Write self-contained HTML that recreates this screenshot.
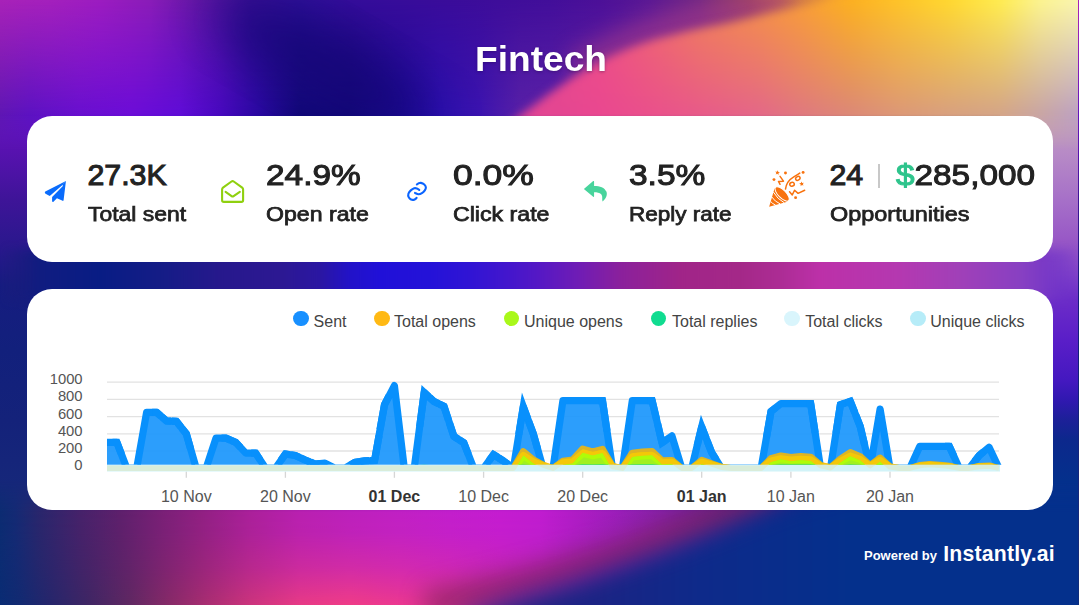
<!DOCTYPE html>
<html>
<head>
<meta charset="utf-8">
<title>Fintech</title>
<style>
html,body{margin:0;padding:0;}
html{width:1079px;height:605px;overflow:hidden;}
body{width:1079px;height:605px;overflow:hidden;position:relative;background:#14207c;font-family:"Liberation Sans",sans-serif;}
#bg{position:absolute;left:0;top:0;width:1079px;height:605px;}
.card{position:absolute;left:27px;width:1026px;background:#fff;border-radius:25px;}
#c1{top:116px;height:145.6px;}
#c2{top:288.8px;height:221.3px;}
#title{position:absolute;left:340.7px;top:37px;width:400px;transform:scaleX(1.045);text-align:center;color:#fff;font-weight:bold;font-size:35.5px;line-height:44px;text-shadow:0 1px 3px rgba(30,0,60,0.35);letter-spacing:0;}
.t{position:absolute;white-space:nowrap;color:#222;transform-origin:0 0;}
.num{font-size:30.3px;font-weight:normal;-webkit-text-stroke:1.05px #222;line-height:36px;top:157.1px;}
.lab{font-size:20.7px;font-weight:normal;-webkit-text-stroke:0.75px #222;line-height:24px;top:202.2px;}
.ic{position:absolute;overflow:visible;}
.cf{position:absolute;white-space:nowrap;font-size:16px;line-height:18px;color:#555;}
.leg{top:313px;color:#444;}
.dot{position:absolute;width:15.6px;height:15.6px;border-radius:50%;top:310.6px;}
.yl{text-align:right;width:60px;left:22.6px;font-size:14.8px;}
.xl{width:80px;text-align:center;top:487.5px;}
.xl b{color:#333;}
.pw{position:absolute;color:#fff;font-weight:bold;white-space:nowrap;}
</style>
</head>
<body>
<svg id="bg" width="1079" height="605" viewBox="0 0 1079 605">
<defs><filter id="bl6" color-interpolation-filters="sRGB" x="-10%" y="-30%" width="120%" height="160%"><feGaussianBlur stdDeviation="5"/></filter>
<filter id="bl12" color-interpolation-filters="sRGB" x="-10%" y="-30%" width="120%" height="160%"><feGaussianBlur stdDeviation="12"/></filter>
<filter id="bl25" color-interpolation-filters="sRGB" x="-20%" y="-50%" width="140%" height="200%"><feGaussianBlur stdDeviation="25"/></filter>
<linearGradient id="LS" gradientUnits="userSpaceOnUse" x1="0" y1="0" x2="0" y2="605"><stop offset="0.0000" stop-color="#a822b8"/><stop offset="0.0992" stop-color="#8a1cbc"/><stop offset="0.1917" stop-color="#6214bc"/><stop offset="0.2479" stop-color="#5812b0"/><stop offset="0.3306" stop-color="#3e1498"/><stop offset="0.4132" stop-color="#28188c"/><stop offset="0.4711" stop-color="#161c80"/><stop offset="0.5785" stop-color="#12207c"/><stop offset="0.6942" stop-color="#14227a"/><stop offset="0.8264" stop-color="#16287a"/><stop offset="0.9256" stop-color="#142c78"/><stop offset="1.0000" stop-color="#0c2c7c"/></linearGradient>
<linearGradient id="RS" gradientUnits="userSpaceOnUse" x1="0" y1="0" x2="0" y2="605"><stop offset="0.0000" stop-color="#fbf4a4"/><stop offset="0.0496" stop-color="#f4eca0"/><stop offset="0.0992" stop-color="#eedca4"/><stop offset="0.1488" stop-color="#dcc0a8"/><stop offset="0.1917" stop-color="#c4a0b8"/><stop offset="0.2479" stop-color="#b88cc6"/><stop offset="0.3306" stop-color="#a670c8"/><stop offset="0.3967" stop-color="#9858c6"/><stop offset="0.4545" stop-color="#8040c8"/><stop offset="0.4959" stop-color="#6c2cc8"/><stop offset="0.5620" stop-color="#5a1ec8"/><stop offset="0.6281" stop-color="#4418c0"/><stop offset="0.6612" stop-color="#3018b0"/><stop offset="0.6942" stop-color="#1c2098"/><stop offset="0.7273" stop-color="#0c288c"/><stop offset="0.7934" stop-color="#04308c"/><stop offset="1.0000" stop-color="#043090"/></linearGradient>
<linearGradient id="MS" gradientUnits="userSpaceOnUse" x1="0" y1="0" x2="1079" y2="0"><stop offset="0.0000" stop-color="#1e1c78"/><stop offset="0.0371" stop-color="#101c80"/><stop offset="0.0927" stop-color="#081c84"/><stop offset="0.1483" stop-color="#141c86"/><stop offset="0.2039" stop-color="#26188c"/><stop offset="0.2595" stop-color="#2c1892"/><stop offset="0.2966" stop-color="#2a16a2"/><stop offset="0.3244" stop-color="#2212c8"/><stop offset="0.3522" stop-color="#2010d8"/><stop offset="0.3985" stop-color="#2412d8"/><stop offset="0.4356" stop-color="#3014d4"/><stop offset="0.4727" stop-color="#4416cc"/><stop offset="0.5005" stop-color="#5618c4"/><stop offset="0.5375" stop-color="#701cb4"/><stop offset="0.5746" stop-color="#8a209c"/><stop offset="0.6302" stop-color="#a02488"/><stop offset="0.6858" stop-color="#a42888"/><stop offset="0.7229" stop-color="#ac2c94"/><stop offset="0.7600" stop-color="#bc30a8"/><stop offset="0.8341" stop-color="#b438b0"/><stop offset="0.8897" stop-color="#a040b8"/><stop offset="0.9453" stop-color="#8840c2"/><stop offset="0.9824" stop-color="#7034c8"/><stop offset="1.0000" stop-color="#6830cc"/></linearGradient>
<filter id="blm" color-interpolation-filters="sRGB" x="-5%" y="-50%" width="110%" height="200%"><feGaussianBlur stdDeviation="0 5"/></filter>
<linearGradient id="MSF" x1="0" y1="0" x2="1" y2="0"><stop offset="0" stop-color="#000"/><stop offset="0.035" stop-color="#fff"/><stop offset="0.965" stop-color="#fff"/><stop offset="1" stop-color="#000"/></linearGradient>
<mask id="MSK" maskUnits="userSpaceOnUse" x="0" y="230" width="1079" height="90"><rect x="0" y="230" width="1079" height="90" fill="url(#MSF)"/></mask>
<linearGradient id="TFg" gradientUnits="userSpaceOnUse" x1="0" y1="114" x2="0" y2="150"><stop offset="0" stop-color="#fff"/><stop offset="1" stop-color="#000"/></linearGradient>
<mask id="TF" maskUnits="userSpaceOnUse" x="0" y="-10" width="1079" height="170"><rect x="0" y="-10" width="1079" height="170" fill="url(#TFg)"/></mask>
<linearGradient id="TCT" gradientUnits="userSpaceOnUse" x1="0" y1="0" x2="1079" y2="0"><stop offset="0.0000" stop-color="#a822b8"/><stop offset="0.0463" stop-color="#a420bc"/><stop offset="0.0927" stop-color="#9c1cc0"/><stop offset="0.1390" stop-color="#8a1cb8"/><stop offset="0.1854" stop-color="#6016a4"/><stop offset="0.2317" stop-color="#3c1098"/><stop offset="0.2780" stop-color="#30109a"/><stop offset="0.3244" stop-color="#340c9a"/><stop offset="0.4171" stop-color="#3a0c9a"/><stop offset="0.5097" stop-color="#420e9a"/><stop offset="0.5561" stop-color="#4c1098"/><stop offset="0.6024" stop-color="#5a1894"/><stop offset="0.6487" stop-color="#6c2684"/><stop offset="0.6951" stop-color="#92445c"/><stop offset="0.7414" stop-color="#d07c44"/><stop offset="0.7878" stop-color="#f0a030"/><stop offset="1.0000" stop-color="#f0a030"/></linearGradient>
<linearGradient id="TCB" gradientUnits="userSpaceOnUse" x1="0" y1="0" x2="1079" y2="0"><stop offset="0.0000" stop-color="#5e16b4"/><stop offset="0.0278" stop-color="#5c12c2"/><stop offset="0.0741" stop-color="#680fd0"/><stop offset="0.1205" stop-color="#6c0cd8"/><stop offset="0.1668" stop-color="#600cd8"/><stop offset="0.2039" stop-color="#4808c0"/><stop offset="0.2410" stop-color="#2808a0"/><stop offset="0.2780" stop-color="#100878"/><stop offset="0.3244" stop-color="#100878"/><stop offset="0.3707" stop-color="#1c0a98"/><stop offset="0.4078" stop-color="#2c10b0"/><stop offset="0.4449" stop-color="#3c14b0"/><stop offset="0.4819" stop-color="#5820a8"/><stop offset="0.5561" stop-color="#6424a8"/><stop offset="1.0000" stop-color="#6424a8"/></linearGradient>
<linearGradient id="TCM" gradientUnits="userSpaceOnUse" x1="0" y1="0" x2="0" y2="116"><stop offset="0" stop-color="#fff"/><stop offset="1" stop-color="#000"/></linearGradient>
<mask id="TCK" maskUnits="userSpaceOnUse" x="0" y="-5" width="1079" height="160"><rect x="0" y="-5" width="1079" height="160" fill="url(#TCM)"/></mask>
<clipPath id="WC"><path d="M470,170 L495,135 C520,116 540,100 556,89 C580,72 595,64 611,56 C635,45 650,40 667,36 C690,30 705,27 722,24 C745,19 760,15 778,11 C800,6 815,3 840,-6 L1200,-30 L1200,170 L470,170 Z"/></clipPath>
<linearGradient id="TWT" gradientUnits="userSpaceOnUse" x1="480" y1="0" x2="1130" y2="0"><stop offset="0.0000" stop-color="#e84890"/><stop offset="0.1846" stop-color="#ee5084"/><stop offset="0.3385" stop-color="#f08058"/><stop offset="0.4308" stop-color="#f49048"/><stop offset="0.4923" stop-color="#f89c38"/><stop offset="0.5692" stop-color="#fcb020"/><stop offset="0.6462" stop-color="#fec428"/><stop offset="0.7231" stop-color="#ffd830"/><stop offset="0.8000" stop-color="#ffec50"/><stop offset="0.8615" stop-color="#fcf490"/><stop offset="0.9215" stop-color="#faf6b0"/><stop offset="1.0000" stop-color="#faf6b0"/></linearGradient>
<linearGradient id="TWB" gradientUnits="userSpaceOnUse" x1="480" y1="0" x2="1130" y2="0"><stop offset="0.0000" stop-color="#e04494"/><stop offset="0.1231" stop-color="#e44692"/><stop offset="0.1846" stop-color="#ea4890"/><stop offset="0.2615" stop-color="#ea508c"/><stop offset="0.3385" stop-color="#e85a8a"/><stop offset="0.4308" stop-color="#e46888"/><stop offset="0.4923" stop-color="#e07880"/><stop offset="0.5692" stop-color="#dc8878"/><stop offset="0.6462" stop-color="#dc9878"/><stop offset="0.7231" stop-color="#d8a080"/><stop offset="0.8000" stop-color="#d4a488"/><stop offset="0.8615" stop-color="#c8a4a4"/><stop offset="0.9215" stop-color="#bca0c4"/><stop offset="1.0000" stop-color="#bca0c4"/></linearGradient>
<linearGradient id="TWM" gradientUnits="userSpaceOnUse" x1="0" y1="0" x2="0" y2="116"><stop offset="0" stop-color="#fff"/><stop offset="1" stop-color="#000"/></linearGradient>
<mask id="TWK" maskUnits="userSpaceOnUse" x="480" y="-10" width="650" height="170"><rect x="480" y="-10" width="650" height="170" fill="url(#TWM)"/></mask>
<linearGradient id="BFg" gradientUnits="userSpaceOnUse" x1="0" y1="480" x2="0" y2="512"><stop offset="0" stop-color="#000"/><stop offset="1" stop-color="#fff"/></linearGradient>
<mask id="BF" maskUnits="userSpaceOnUse" x="0" y="470" width="1079" height="140"><rect x="0" y="470" width="1079" height="140" fill="url(#BFg)"/></mask>
<linearGradient id="BST" gradientUnits="userSpaceOnUse" x1="0" y1="0" x2="1079" y2="0"><stop offset="0.0000" stop-color="#0c2c72"/><stop offset="0.0139" stop-color="#142a74"/><stop offset="0.0371" stop-color="#2a266c"/><stop offset="0.0741" stop-color="#46226a"/><stop offset="0.1112" stop-color="#5e206c"/><stop offset="0.1483" stop-color="#782076"/><stop offset="0.1854" stop-color="#902082"/><stop offset="0.2317" stop-color="#aa209a"/><stop offset="0.2780" stop-color="#b820b0"/><stop offset="0.3244" stop-color="#bc20bc"/><stop offset="0.3707" stop-color="#c020c4"/><stop offset="0.4171" stop-color="#c21ecc"/><stop offset="0.4634" stop-color="#c41cd0"/><stop offset="0.5005" stop-color="#c01cd0"/><stop offset="0.5375" stop-color="#ae1cc4"/><stop offset="0.5746" stop-color="#9a1eb8"/><stop offset="0.6117" stop-color="#8620a8"/><stop offset="0.6487" stop-color="#6a2098"/><stop offset="0.6858" stop-color="#46208e"/><stop offset="0.7229" stop-color="#28208a"/><stop offset="0.7600" stop-color="#16248a"/><stop offset="0.8063" stop-color="#0a2a8c"/><stop offset="1.0000" stop-color="#04308c"/></linearGradient>
<linearGradient id="BSB" gradientUnits="userSpaceOnUse" x1="0" y1="0" x2="1079" y2="0"><stop offset="0.0000" stop-color="#0a2c74"/><stop offset="0.0185" stop-color="#122a72"/><stop offset="0.0463" stop-color="#26266c"/><stop offset="0.0834" stop-color="#402664"/><stop offset="0.1205" stop-color="#602862"/><stop offset="0.1576" stop-color="#882a68"/><stop offset="0.1946" stop-color="#ac2e72"/><stop offset="0.2317" stop-color="#cc347c"/><stop offset="0.2780" stop-color="#e83a86"/><stop offset="0.3244" stop-color="#f03c88"/><stop offset="0.3707" stop-color="#ec3890"/><stop offset="0.4171" stop-color="#e03498"/><stop offset="0.4819" stop-color="#c02ca8"/><stop offset="0.5561" stop-color="#8028a0"/><stop offset="0.6487" stop-color="#30288c"/><stop offset="0.7229" stop-color="#0c2c8c"/><stop offset="1.0000" stop-color="#043090"/></linearGradient>
<linearGradient id="BSM" gradientUnits="userSpaceOnUse" x1="0" y1="510" x2="0" y2="605"><stop offset="0" stop-color="#fff"/><stop offset="0.25" stop-color="#eee"/><stop offset="0.6" stop-color="#999"/><stop offset="1" stop-color="#000"/></linearGradient>
<mask id="BSK" maskUnits="userSpaceOnUse" x="0" y="470" width="1079" height="140"><rect x="0" y="470" width="1079" height="140" fill="url(#BSM)"/></mask>
<filter id="bl18" color-interpolation-filters="sRGB" x="-20%" y="-50%" width="140%" height="200%"><feGaussianBlur stdDeviation="17"/></filter>
<linearGradient id="NV" gradientUnits="userSpaceOnUse" x1="0" y1="0" x2="1079" y2="0"><stop offset="0.4449" stop-color="#202482"/><stop offset="0.5561" stop-color="#1a2484"/><stop offset="0.6487" stop-color="#0e2a8a"/><stop offset="0.7878" stop-color="#04308c"/><stop offset="1.0000" stop-color="#04308c"/></linearGradient></defs>
<rect width="1079" height="605" fill="#14207c"/>
<rect x="0" y="0" width="80" height="605" fill="url(#LS)"/>
<rect x="1000" y="0" width="79" height="605" fill="url(#RS)"/>
<g mask="url(#MSK)"><rect x="-20" y="250" width="1119" height="50" fill="url(#MS)" filter="url(#blm)"/></g>
<g mask="url(#TF)">
<g ><rect x="0" y="-5" width="1079" height="160" fill="url(#TCB)"/><rect x="0" y="-5" width="1079" height="160" fill="url(#TCT)" mask="url(#TCK)"/></g>
<ellipse cx="325" cy="66" rx="120" ry="34" transform="rotate(30 325 66)" fill="#140676" opacity="0.8" filter="url(#bl25)"/>
<path d="M575,70 C600,54 640,36 667,28 C700,19 740,10 790,0" fill="none" stroke="#b84084" stroke-width="26" opacity="0.6" filter="url(#bl12)"/>
<g filter="url(#bl6)"><g clip-path="url(#WC)"><g ><rect x="480" y="-10" width="650" height="170" fill="url(#TWB)"/><rect x="480" y="-10" width="650" height="170" fill="url(#TWT)" mask="url(#TWK)"/></g></g></g>
</g>
<g mask="url(#BF)">
<g ><rect x="0" y="470" width="1079" height="140" fill="url(#BSB)"/><rect x="0" y="470" width="1079" height="140" fill="url(#BST)" mask="url(#BSK)"/></g>
<path d="M425,606 C470,596 520,584 560,573 C600,562 640,549 680,533 C720,518 750,506 780,494" fill="none" stroke="#862260" stroke-width="28" opacity="0.75" filter="url(#bl12)"/>
<g filter="url(#bl12)"><path d="M430,655 L470,614 C500,602 530,594 560,586 C590,577 620,567 667,550 C700,538 735,524 770,510 C800,498 830,490 870,482 L1200,470 L1200,700 Z" fill="url(#NV)"/></g>
</g>
<rect x="1078" y="0" width="1" height="605" fill="url(#LS)"/>
</svg>

<div id="title">Fintech</div>

<div class="card" id="c1"></div>
<div class="card" id="c2"></div>

<!-- stats -->
<div class="t num" id="n1" style="left:87.5px;transform:scaleX(1.0)">27.3K</div>
<div class="t lab" id="l1" style="left:87.5px;transform:scaleX(1.107)">Total sent</div>
<div class="t num" id="n2" style="left:266px;transform:scaleX(1.103)">24.9%</div>
<div class="t lab" id="l2" style="left:266px;transform:scaleX(1.117)">Open rate</div>
<div class="t num" id="n3" style="left:453px;transform:scaleX(1.172)">0.0%</div>
<div class="t lab" id="l3" style="left:453px;transform:scaleX(1.119)">Click rate</div>
<div class="t num" id="n4" style="left:629px;transform:scaleX(1.105)">3.5%</div>
<div class="t lab" id="l4" style="left:629px;transform:scaleX(1.088)">Reply rate</div>
<div class="t num" id="n5" style="left:829.5px;transform:scaleX(1.0)">24</div>
<div style="position:absolute;left:877.7px;top:164px;width:2px;height:24px;background:#c8c8c8;"></div>
<div class="t num" id="n6" style="left:896px;transform:scaleX(1.10)"><span style="color:#2ec48c;-webkit-text-stroke-color:#2ec48c">$</span>285,000</div>
<div class="t lab" id="l5" style="left:829.5px;transform:scaleX(1.133)">Opportunities</div>

<!-- icons -->
<svg style="position:absolute;left:0;top:0" width="1079" height="605" viewBox="0 0 1079 605">
<path fill="#0a6cfc" d="M 65.93 181.03 L 45.29 191.61 Q 44.66 192.14 44.87 192.83 Q 45.03 193.46 45.56 193.72 L 49.26 195.84 Q 49.89 196.00 50.32 195.58 L 62.49 184.99 Z"/>
<path fill="#0a6cfc" d="M 65.93 181.03 L 62.12 185.10 L 63.17 185.63 L 52.12 196.95 L 52.06 201.29 Q 52.28 202.19 53.23 202.03 L 56.93 198.22 L 62.65 200.87 Q 63.39 200.97 63.60 200.23 Z"/>
<path fill="none" stroke="#8fd00f" stroke-width="2.1" stroke-linejoin="round" d="M222.1,200.2 L222.1,189.4 Q222.1,188.4 223,187.7 L231.5,181.5 Q232.6,180.7 233.7,181.5 L242.2,187.7 Q243.1,188.4 243.1,189.4 L243.1,200.2 Q243.1,201.9 241.4,201.9 L223.8,201.9 Q222.1,201.9 222.1,200.2 Z"/>
<path fill="none" stroke="#8fd00f" stroke-width="2.1" stroke-linecap="round" stroke-linejoin="round" d="M225.6,191.9 L231.6,196.1 Q232.6,196.8 233.6,196.1 L239.8,191.9"/>
<path fill="none" stroke="#0a64ff" stroke-width="2.1" stroke-linecap="round" d="M416.87,184.47 C417.18,184.27 418.06,183.57 418.72,183.30 C419.39,183.04 419.92,182.68 420.84,182.88 C421.77,183.07 423.44,183.72 424.28,184.47 C425.12,185.22 425.78,186.41 425.87,187.38 C425.96,188.35 425.47,189.32 424.81,190.29 C424.15,191.26 422.96,192.53 421.90,193.20 C420.84,193.86 419.61,194.30 418.46,194.25 C417.31,194.21 415.59,193.15 415.02,192.93"/>
<path fill="none" stroke="#0a64ff" stroke-width="2.1" stroke-linecap="round" d="M419.25,189.86 C418.86,189.62 417.71,188.70 416.87,188.43 C416.04,188.17 415.24,187.95 414.23,188.28 C413.21,188.60 411.76,189.48 410.79,190.39 C409.82,191.30 408.76,192.60 408.41,193.72 C408.05,194.85 408.23,196.19 408.67,197.16 C409.11,198.13 410.13,199.13 411.05,199.54 C411.98,199.96 413.30,199.92 414.23,199.65 C415.15,199.39 416.21,198.24 416.61,197.96"/>
<path fill="#48d49c" d="M 583.87 188.96 L 593.18 181.08 Q 594.08 180.66 594.08 181.82 L 594.08 185.95 C 600.16 185.95 604.40 187.38 606.51 191.87 C 607.84 196.11 604.93 199.81 602.54 201.50 C 601.75 199.28 603.07 196.63 601.22 194.25 C 599.63 192.51 596.99 192.14 594.08 192.14 L 594.08 196.37 Q 594.08 197.27 593.18 196.85 Z"/>
<path fill="#f8720e" d="M 769.17 206.80 L 774.61 188.31 Q 780.20 197.63 787.35 201.67 Z"/>
<path fill="none" stroke="#fff" stroke-width="1.0" d="M 773.36 192.04 Q 777.48 199.19 784.24 202.76"/>
<path fill="none" stroke="#fff" stroke-width="1.0" d="M 771.81 197.01 Q 774.76 201.52 780.05 203.85"/>
<path fill="none" stroke="#fff" stroke-width="1.0" d="M 770.57 201.36 Q 772.43 203.85 775.54 205.02"/>
<ellipse cx="782.14" cy="193.90" rx="9.4" ry="3.9" transform="rotate(45.5 782.14 193.90)" fill="#f8720e" stroke="#fff" stroke-width="1"/>
<path fill="#f8720e" d="M777.92,170.31 L778.27,172.01 L779.96,172.42 L778.45,173.29 L778.58,175.02 L777.29,173.85 L775.68,174.51 L776.39,172.92 L775.28,171.60 L777.00,171.78 Z"/>
<path fill="#f8720e" d="M801.29,181.42 L802.21,182.89 L803.93,182.71 L802.81,184.03 L803.52,185.62 L801.92,184.96 L800.63,186.13 L800.75,184.40 L799.25,183.53 L800.93,183.12 Z"/>
<circle cx="785.49" cy="173.00" r="1.45" fill="#f8720e"/>
<circle cx="773.99" cy="179.61" r="1.45" fill="#f8720e"/>
<circle cx="803.12" cy="172.38" r="1.45" fill="#f8720e"/>
<circle cx="795.59" cy="197.63" r="1.45" fill="#f8720e"/>
<path fill="none" stroke="#f8720e" stroke-width="1.5" stroke-linecap="round" stroke-linejoin="round" d="M 780.05 176.34 L 783.47 181.16 L 778.49 181.47 L 780.05 184.27"/>
<path fill="none" stroke="#f8720e" stroke-width="1.5" stroke-linecap="round" stroke-linejoin="round" d="M 789.53 191.81 L 792.25 194.91 L 794.58 190.25 L 798.07 193.36 L 804.68 190.25"/>
<path fill="none" stroke="#f8720e" stroke-width="1.5" stroke-linecap="round" stroke-linejoin="round" d="M 785.49 189.09 C 786.03 184.81 788.75 179.76 793.41 177.04 C 795.74 175.72 798.07 174.32 799.78 173.08"/>
<ellipse cx="797.84" cy="178.36" rx="2.3" ry="1.8" transform="rotate(-30 797.84 178.36)" fill="none" stroke="#f8720e" stroke-width="1.5" stroke-linecap="round" stroke-linejoin="round"/>
<ellipse cx="792.01" cy="184.27" rx="2.3" ry="1.9" transform="rotate(-20 792.01 184.27)" fill="none" stroke="#f8720e" stroke-width="1.5" stroke-linecap="round" stroke-linejoin="round"/>
</svg>

<!-- chart -->
<svg id="chart" style="position:absolute;left:0;top:0" width="1079" height="605" viewBox="0 0 1079 605">
<defs><clipPath id="cp"><rect x="107" y="378.6" width="896" height="86.2"/></clipPath><clipPath id="cb"><rect x="107" y="464.8" width="893" height="6.9"/></clipPath></defs><line x1="107" x2="999" y1="451.0" y2="451.0" stroke="#e2e2e2" stroke-width="1.3"/>
<line x1="107" x2="999" y1="433.8" y2="433.8" stroke="#e2e2e2" stroke-width="1.3"/>
<line x1="107" x2="999" y1="416.6" y2="416.6" stroke="#e2e2e2" stroke-width="1.3"/>
<line x1="107" x2="999" y1="399.4" y2="399.4" stroke="#e2e2e2" stroke-width="1.3"/>
<line x1="107" x2="999" y1="382.2" y2="382.2" stroke="#e2e2e2" stroke-width="1.3"/>
<line x1="107" x2="999" y1="468.2" y2="468.2" stroke="#e2e2e2" stroke-width="1.3"/>
<line x1="186.3" x2="186.3" y1="471.5" y2="477.8" stroke="#d6d6d6" stroke-width="1.3"/>
<line x1="285.4" x2="285.4" y1="471.5" y2="477.8" stroke="#d6d6d6" stroke-width="1.3"/>
<line x1="394.4" x2="394.4" y1="471.5" y2="477.8" stroke="#d6d6d6" stroke-width="1.3"/>
<line x1="483.6" x2="483.6" y1="471.5" y2="477.8" stroke="#d6d6d6" stroke-width="1.3"/>
<line x1="582.7" x2="582.7" y1="471.5" y2="477.8" stroke="#d6d6d6" stroke-width="1.3"/>
<line x1="701.7" x2="701.7" y1="471.5" y2="477.8" stroke="#d6d6d6" stroke-width="1.3"/>
<line x1="790.9" x2="790.9" y1="471.5" y2="477.8" stroke="#d6d6d6" stroke-width="1.3"/>
<line x1="890.0" x2="890.0" y1="471.5" y2="477.8" stroke="#d6d6d6" stroke-width="1.3"/><g clip-path="url(#cp)"><path d="M107.0,442.4 L116.9,442.4 L126.8,468.2 L136.7,468.2 L146.6,412.3 L156.6,412.3 L166.5,420.9 L176.4,421.3 L186.3,433.8 L196.2,468.2 L206.1,468.2 L216.0,438.1 L225.9,438.1 L235.8,442.4 L245.8,453.1 L255.7,453.1 L265.6,468.2 L275.5,468.2 L285.4,454.0 L295.3,455.5 L305.2,460.0 L315.1,464.0 L325.0,463.1 L335.0,468.2 L344.9,468.2 L354.8,462.4 L364.7,460.9 L374.6,460.5 L384.5,404.6 L394.4,385.6 L404.3,468.2 L414.2,468.2 L424.2,392.5 L434.1,401.6 L444.0,406.3 L453.9,436.4 L463.8,442.7 L473.7,468.2 L483.6,468.2 L493.5,454.6 L503.4,460.9 L513.4,468.2 L523.3,406.7 L533.2,433.4 L543.1,468.2 L553.0,468.2 L562.9,400.7 L572.8,400.7 L582.7,400.7 L592.6,400.7 L602.5,400.7 L612.5,468.2 L622.4,468.2 L632.3,400.7 L642.2,400.7 L652.1,400.7 L662.0,442.7 L671.9,435.9 L681.8,468.2 L691.7,468.2 L701.7,426.9 L711.6,452.3 L721.5,468.2 L731.4,468.2 L741.3,468.2 L751.2,468.2 L761.1,468.2 L771.0,411.4 L780.9,403.7 L790.9,403.7 L800.8,403.7 L810.7,403.7 L820.6,468.2 L830.5,468.2 L840.4,404.6 L850.3,401.3 L860.2,426.4 L870.1,468.2 L880.1,409.1 L890.0,468.2 L899.9,468.2 L909.8,468.2 L919.7,446.4 L929.6,446.4 L939.5,446.4 L949.4,446.4 L959.3,468.2 L969.3,468.2 L979.2,455.5 L989.1,447.3 L999.0,468.2 L999.0,468.2 L107.0,468.2 Z" fill="#1c97fc" fill-opacity="0.93"/>
<path d="M107.0,442.4 L116.9,442.4 L126.8,468.2 L136.7,468.2 L146.6,412.3 L156.6,412.3 L166.5,420.9 L176.4,421.3 L186.3,433.8 L196.2,468.2 L206.1,468.2 L216.0,438.1 L225.9,438.1 L235.8,442.4 L245.8,453.1 L255.7,453.1 L265.6,468.2 L275.5,468.2 L285.4,454.0 L295.3,455.5 L305.2,460.0 L315.1,464.0 L325.0,463.1 L335.0,468.2 L344.9,468.2 L354.8,462.4 L364.7,460.9 L374.6,460.5 L384.5,404.6 L394.4,385.6 L404.3,468.2 L414.2,468.2 L424.2,392.5 L434.1,401.6 L444.0,406.3 L453.9,436.4 L463.8,442.7 L473.7,468.2 L483.6,468.2 L493.5,454.6 L503.4,460.9 L513.4,468.2 L523.3,406.7 L533.2,433.4 L543.1,468.2 L553.0,468.2 L562.9,400.7 L572.8,400.7 L582.7,400.7 L592.6,400.7 L602.5,400.7 L612.5,468.2 L622.4,468.2 L632.3,400.7 L642.2,400.7 L652.1,400.7 L662.0,442.7 L671.9,435.9 L681.8,468.2 L691.7,468.2 L701.7,426.9 L711.6,452.3 L721.5,468.2 L731.4,468.2 L741.3,468.2 L751.2,468.2 L761.1,468.2 L771.0,411.4 L780.9,403.7 L790.9,403.7 L800.8,403.7 L810.7,403.7 L820.6,468.2 L830.5,468.2 L840.4,404.6 L850.3,401.3 L860.2,426.4 L870.1,468.2 L880.1,409.1 L890.0,468.2 L899.9,468.2 L909.8,468.2 L919.7,446.4 L929.6,446.4 L939.5,446.4 L949.4,446.4 L959.3,468.2 L969.3,468.2 L979.2,455.5 L989.1,447.3 L999.0,468.2" fill="none" stroke="#0890fc" stroke-width="7.2" stroke-linejoin="round"/>
<path d="M112.5,442.4 L116.9,442.4 L121.4,454.0" fill="none" stroke="#0890fc" stroke-width="7.2" stroke-linejoin="miter" stroke-miterlimit="10"/>
<path d="M152.1,412.3 L156.6,412.3 L161.0,416.2" fill="none" stroke="#0890fc" stroke-width="7.2" stroke-linejoin="miter" stroke-miterlimit="10"/>
<path d="M162.0,417.0 L166.5,420.9 L170.9,421.1" fill="none" stroke="#0890fc" stroke-width="7.2" stroke-linejoin="miter" stroke-miterlimit="10"/>
<path d="M171.9,421.1 L176.4,421.3 L180.8,426.9" fill="none" stroke="#0890fc" stroke-width="7.2" stroke-linejoin="miter" stroke-miterlimit="10"/>
<path d="M181.8,428.2 L186.3,433.8 L190.7,449.3" fill="none" stroke="#0890fc" stroke-width="7.2" stroke-linejoin="miter" stroke-miterlimit="10"/>
<path d="M221.5,438.1 L225.9,438.1 L230.4,440.0" fill="none" stroke="#0890fc" stroke-width="7.2" stroke-linejoin="miter" stroke-miterlimit="10"/>
<path d="M231.4,440.5 L235.8,442.4 L240.3,447.2" fill="none" stroke="#0890fc" stroke-width="7.2" stroke-linejoin="miter" stroke-miterlimit="10"/>
<path d="M251.2,453.1 L255.7,453.1 L260.1,459.9" fill="none" stroke="#0890fc" stroke-width="7.2" stroke-linejoin="miter" stroke-miterlimit="10"/>
<path d="M280.9,460.4 L285.4,454.0 L289.9,454.7" fill="none" stroke="#0890fc" stroke-width="7.2" stroke-linejoin="miter" stroke-miterlimit="10"/>
<path d="M290.8,454.8 L295.3,455.5 L299.8,457.5" fill="none" stroke="#0890fc" stroke-width="7.2" stroke-linejoin="miter" stroke-miterlimit="10"/>
<path d="M300.8,458.0 L305.2,460.0 L309.7,461.8" fill="none" stroke="#0890fc" stroke-width="7.2" stroke-linejoin="miter" stroke-miterlimit="10"/>
<path d="M310.7,462.2 L315.1,464.0 L319.6,463.6" fill="none" stroke="#0890fc" stroke-width="7.2" stroke-linejoin="miter" stroke-miterlimit="10"/>
<path d="M350.3,465.0 L354.8,462.4 L359.2,461.7" fill="none" stroke="#0890fc" stroke-width="7.2" stroke-linejoin="miter" stroke-miterlimit="10"/>
<path d="M360.2,461.5 L364.7,460.9 L369.1,460.7" fill="none" stroke="#0890fc" stroke-width="7.2" stroke-linejoin="miter" stroke-miterlimit="10"/>
<path d="M370.1,460.7 L374.6,460.5 L379.1,435.3" fill="none" stroke="#0890fc" stroke-width="7.2" stroke-linejoin="miter" stroke-miterlimit="10"/>
<path d="M380.0,429.7 L384.5,404.6 L389.0,396.0" fill="none" stroke="#0890fc" stroke-width="7.2" stroke-linejoin="miter" stroke-miterlimit="10"/>
<path d="M419.7,426.6 L424.2,392.5 L428.6,396.6" fill="none" stroke="#0890fc" stroke-width="7.2" stroke-linejoin="miter" stroke-miterlimit="10"/>
<path d="M429.6,397.5 L434.1,401.6 L438.5,403.7" fill="none" stroke="#0890fc" stroke-width="7.2" stroke-linejoin="miter" stroke-miterlimit="10"/>
<path d="M439.5,404.2 L444.0,406.3 L448.4,419.8" fill="none" stroke="#0890fc" stroke-width="7.2" stroke-linejoin="miter" stroke-miterlimit="10"/>
<path d="M449.4,422.8 L453.9,436.4 L458.3,439.2" fill="none" stroke="#0890fc" stroke-width="7.2" stroke-linejoin="miter" stroke-miterlimit="10"/>
<path d="M459.3,439.9 L463.8,442.7 L468.3,454.2" fill="none" stroke="#0890fc" stroke-width="7.2" stroke-linejoin="miter" stroke-miterlimit="10"/>
<path d="M489.1,460.7 L493.5,454.6 L498.0,457.4" fill="none" stroke="#0890fc" stroke-width="7.2" stroke-linejoin="miter" stroke-miterlimit="10"/>
<path d="M499.0,458.1 L503.4,460.9 L507.9,464.2" fill="none" stroke="#0890fc" stroke-width="7.2" stroke-linejoin="miter" stroke-miterlimit="10"/>
<path d="M518.8,434.4 L523.3,406.7 L527.7,418.7" fill="none" stroke="#0890fc" stroke-width="7.2" stroke-linejoin="miter" stroke-miterlimit="10"/>
<path d="M528.7,421.4 L533.2,433.4 L537.6,449.0" fill="none" stroke="#0890fc" stroke-width="7.2" stroke-linejoin="miter" stroke-miterlimit="10"/>
<path d="M598.1,400.7 L602.5,400.7 L607.0,431.1" fill="none" stroke="#0890fc" stroke-width="7.2" stroke-linejoin="miter" stroke-miterlimit="10"/>
<path d="M647.6,400.7 L652.1,400.7 L656.6,419.6" fill="none" stroke="#0890fc" stroke-width="7.2" stroke-linejoin="miter" stroke-miterlimit="10"/>
<path d="M657.6,423.8 L662.0,442.7 L666.5,439.6" fill="none" stroke="#0890fc" stroke-width="7.2" stroke-linejoin="miter" stroke-miterlimit="10"/>
<path d="M697.2,445.5 L701.7,426.9 L706.1,438.3" fill="none" stroke="#0890fc" stroke-width="7.2" stroke-linejoin="miter" stroke-miterlimit="10"/>
<path d="M707.1,440.9 L711.6,452.3 L716.0,459.4" fill="none" stroke="#0890fc" stroke-width="7.2" stroke-linejoin="miter" stroke-miterlimit="10"/>
<path d="M766.6,437.0 L771.0,411.4 L775.5,408.0" fill="none" stroke="#0890fc" stroke-width="7.2" stroke-linejoin="miter" stroke-miterlimit="10"/>
<path d="M806.2,403.7 L810.7,403.7 L815.1,432.7" fill="none" stroke="#0890fc" stroke-width="7.2" stroke-linejoin="miter" stroke-miterlimit="10"/>
<path d="M836.0,433.2 L840.4,404.6 L844.9,403.1" fill="none" stroke="#0890fc" stroke-width="7.2" stroke-linejoin="miter" stroke-miterlimit="10"/>
<path d="M845.9,402.8 L850.3,401.3 L854.8,412.6" fill="none" stroke="#0890fc" stroke-width="7.2" stroke-linejoin="miter" stroke-miterlimit="10"/>
<path d="M855.8,415.1 L860.2,426.4 L864.7,445.2" fill="none" stroke="#0890fc" stroke-width="7.2" stroke-linejoin="miter" stroke-miterlimit="10"/>
<path d="M945.0,446.4 L949.4,446.4 L953.9,456.2" fill="none" stroke="#0890fc" stroke-width="7.2" stroke-linejoin="miter" stroke-miterlimit="10"/>
<path d="M974.7,461.2 L979.2,455.5 L983.6,451.8" fill="none" stroke="#0890fc" stroke-width="7.2" stroke-linejoin="miter" stroke-miterlimit="10"/>
<path d="M107.0,468.7 L116.9,468.7 L126.8,468.7 L136.7,468.7 L146.6,468.7 L156.6,468.7 L166.5,468.7 L176.4,468.7 L186.3,468.7 L196.2,468.7 L206.1,468.7 L216.0,468.7 L225.9,468.7 L235.8,468.7 L245.8,468.7 L255.7,468.7 L265.6,468.7 L275.5,468.7 L285.4,468.7 L295.3,468.7 L305.2,468.7 L315.1,468.7 L325.0,468.7 L335.0,468.7 L344.9,468.7 L354.8,468.7 L364.7,468.7 L374.6,468.7 L384.5,468.7 L394.4,468.7 L404.3,468.7 L414.2,468.7 L424.2,468.7 L434.1,468.7 L444.0,468.7 L453.9,468.7 L463.8,468.7 L473.7,468.7 L483.6,468.7 L493.5,468.7 L503.4,468.7 L513.4,468.7 L523.3,451.9 L533.2,460.0 L543.1,465.2 L553.0,468.7 L562.9,461.3 L572.8,460.0 L582.7,449.1 L592.6,451.9 L602.5,449.5 L612.5,466.5 L622.4,468.7 L632.3,453.3 L642.2,452.2 L652.1,451.7 L662.0,460.9 L671.9,460.5 L681.8,468.7 L691.7,468.7 L701.7,460.5 L711.6,463.9 L721.5,467.3 L731.4,468.7 L741.3,468.7 L751.2,468.7 L761.1,468.7 L771.0,458.7 L780.9,456.0 L790.9,457.6 L800.8,456.6 L810.7,457.3 L820.6,465.6 L830.5,467.8 L840.4,459.2 L850.3,452.7 L860.2,456.8 L870.1,465.6 L880.1,458.2 L890.0,466.9 L899.9,468.7 L909.8,468.7 L919.7,465.6 L929.6,464.6 L939.5,465.4 L949.4,466.3 L959.3,468.7 L969.3,468.7 L979.2,466.5 L989.1,466.1 L999.0,468.7" fill="none" stroke="#fab800" stroke-opacity="0.86" stroke-width="7.2" stroke-linejoin="round"/>
<path d="M107.0,468.2 L116.9,468.2 L126.8,468.2 L136.7,468.2 L146.6,468.2 L156.6,468.2 L166.5,468.2 L176.4,468.2 L186.3,468.2 L196.2,468.2 L206.1,468.2 L216.0,468.2 L225.9,468.2 L235.8,468.2 L245.8,468.2 L255.7,468.2 L265.6,468.2 L275.5,468.2 L285.4,468.2 L295.3,468.2 L305.2,468.2 L315.1,468.2 L325.0,468.2 L335.0,468.2 L344.9,468.2 L354.8,468.2 L364.7,468.2 L374.6,468.2 L384.5,468.2 L394.4,468.2 L404.3,468.2 L414.2,468.2 L424.2,468.2 L434.1,468.2 L444.0,468.2 L453.9,468.2 L463.8,468.2 L473.7,468.2 L483.6,468.2 L493.5,468.2 L503.4,468.2 L513.4,468.2 L523.3,451.9 L533.2,460.0 L543.1,465.2 L553.0,468.2 L562.9,461.3 L572.8,460.0 L582.7,449.1 L592.6,451.9 L602.5,449.5 L612.5,466.5 L622.4,468.2 L632.3,453.3 L642.2,452.2 L652.1,451.7 L662.0,460.9 L671.9,460.5 L681.8,468.2 L691.7,468.2 L701.7,460.5 L711.6,463.9 L721.5,467.3 L731.4,468.2 L741.3,468.2 L751.2,468.2 L761.1,468.2 L771.0,458.7 L780.9,456.0 L790.9,457.6 L800.8,456.6 L810.7,457.3 L820.6,465.6 L830.5,467.8 L840.4,459.2 L850.3,452.7 L860.2,456.8 L870.1,465.6 L880.1,458.2 L890.0,466.9 L899.9,468.2 L909.8,468.2 L919.7,465.6 L929.6,464.6 L939.5,465.4 L949.4,466.3 L959.3,468.2 L969.3,468.2 L979.2,466.5 L989.1,466.1 L999.0,468.2 L999.0,468.2 L107.0,468.2 Z" fill="#f4c808"/>
<clipPath id="cl"><path d="M107.0,472.3 L116.9,472.3 L126.8,472.3 L136.7,472.3 L146.6,472.3 L156.6,472.3 L166.5,472.3 L176.4,472.3 L186.3,472.3 L196.2,472.3 L206.1,472.3 L216.0,472.3 L225.9,472.3 L235.8,472.3 L245.8,472.3 L255.7,472.3 L265.6,472.3 L275.5,472.3 L285.4,472.3 L295.3,472.3 L305.2,472.3 L315.1,472.3 L325.0,472.3 L335.0,472.3 L344.9,472.3 L354.8,472.3 L364.7,472.3 L374.6,472.3 L384.5,472.3 L394.4,472.3 L404.3,472.3 L414.2,472.3 L424.2,472.3 L434.1,472.3 L444.0,472.3 L453.9,472.3 L463.8,472.3 L473.7,472.3 L483.6,472.3 L493.5,472.3 L503.4,472.3 L513.4,472.3 L523.3,455.5 L533.2,463.6 L543.1,468.8 L553.0,472.3 L562.9,464.9 L572.8,463.6 L582.7,452.7 L592.6,455.5 L602.5,453.1 L612.5,470.1 L622.4,472.3 L632.3,456.9 L642.2,455.8 L652.1,455.3 L662.0,464.5 L671.9,464.1 L681.8,472.3 L691.7,472.3 L701.7,464.1 L711.6,467.5 L721.5,470.9 L731.4,472.3 L741.3,472.3 L751.2,472.3 L761.1,472.3 L771.0,462.3 L780.9,459.6 L790.9,461.2 L800.8,460.2 L810.7,460.9 L820.6,469.2 L830.5,471.4 L840.4,462.8 L850.3,456.3 L860.2,460.4 L870.1,469.2 L880.1,461.8 L890.0,470.5 L899.9,472.3 L909.8,472.3 L919.7,469.2 L929.6,468.2 L939.5,469.0 L949.4,469.9 L959.3,472.3 L969.3,472.3 L979.2,470.1 L989.1,469.7 L999.0,472.3 L999.0,488.2 L107.0,488.2 Z"/></clipPath>
<path d="M107.0,468.7 L116.9,468.7 L126.8,468.7 L136.7,468.7 L146.6,468.7 L156.6,468.7 L166.5,468.7 L176.4,468.7 L186.3,468.7 L196.2,468.7 L206.1,468.7 L216.0,468.7 L225.9,468.7 L235.8,468.7 L245.8,468.7 L255.7,468.7 L265.6,468.7 L275.5,468.7 L285.4,468.7 L295.3,468.7 L305.2,468.7 L315.1,468.7 L325.0,468.7 L335.0,468.7 L344.9,468.7 L354.8,468.7 L364.7,468.7 L374.6,468.7 L384.5,468.7 L394.4,468.7 L404.3,468.7 L414.2,468.7 L424.2,468.7 L434.1,468.7 L444.0,468.7 L453.9,468.7 L463.8,468.7 L473.7,468.7 L483.6,468.7 L493.5,468.7 L503.4,468.7 L513.4,468.7 L523.3,455.6 L533.2,461.9 L543.1,465.9 L553.0,468.7 L562.9,462.9 L572.8,461.9 L582.7,453.5 L592.6,455.6 L602.5,453.8 L612.5,466.9 L622.4,468.7 L632.3,456.8 L642.2,455.9 L652.1,455.5 L662.0,462.6 L671.9,462.3 L681.8,468.7 L691.7,468.7 L701.7,462.3 L711.6,464.9 L721.5,467.5 L731.4,468.7 L741.3,468.7 L751.2,468.7 L761.1,468.7 L771.0,460.9 L780.9,458.8 L790.9,460.0 L800.8,459.3 L810.7,459.8 L820.6,466.2 L830.5,467.9 L840.4,461.2 L850.3,456.2 L860.2,459.4 L870.1,466.2 L880.1,460.5 L890.0,467.2 L899.9,468.7 L909.8,468.7 L919.7,466.2 L929.6,465.4 L939.5,466.1 L949.4,466.7 L959.3,468.7 L969.3,468.7 L979.2,466.9 L989.1,466.6 L999.0,468.7" fill="none" stroke="#f4c808" stroke-width="7.2" stroke-linejoin="round"/>
<g clip-path="url(#cl)"><path d="M107.0,468.2 L116.9,468.2 L126.8,468.2 L136.7,468.2 L146.6,468.2 L156.6,468.2 L166.5,468.2 L176.4,468.2 L186.3,468.2 L196.2,468.2 L206.1,468.2 L216.0,468.2 L225.9,468.2 L235.8,468.2 L245.8,468.2 L255.7,468.2 L265.6,468.2 L275.5,468.2 L285.4,468.2 L295.3,468.2 L305.2,468.2 L315.1,468.2 L325.0,468.2 L335.0,468.2 L344.9,468.2 L354.8,468.2 L364.7,468.2 L374.6,468.2 L384.5,468.2 L394.4,468.2 L404.3,468.2 L414.2,468.2 L424.2,468.2 L434.1,468.2 L444.0,468.2 L453.9,468.2 L463.8,468.2 L473.7,468.2 L483.6,468.2 L493.5,468.2 L503.4,468.2 L513.4,468.2 L523.3,455.6 L533.2,461.9 L543.1,465.9 L553.0,468.2 L562.9,462.9 L572.8,461.9 L582.7,453.5 L592.6,455.6 L602.5,453.8 L612.5,466.9 L622.4,468.2 L632.3,456.8 L642.2,455.9 L652.1,455.5 L662.0,462.6 L671.9,462.3 L681.8,468.2 L691.7,468.2 L701.7,462.3 L711.6,464.9 L721.5,467.5 L731.4,468.2 L741.3,468.2 L751.2,468.2 L761.1,468.2 L771.0,460.9 L780.9,458.8 L790.9,460.0 L800.8,459.3 L810.7,459.8 L820.6,466.2 L830.5,467.9 L840.4,461.2 L850.3,456.2 L860.2,459.4 L870.1,466.2 L880.1,460.5 L890.0,467.2 L899.9,468.2 L909.8,468.2 L919.7,466.2 L929.6,465.4 L939.5,466.1 L949.4,466.7 L959.3,468.2 L969.3,468.2 L979.2,466.9 L989.1,466.6 L999.0,468.2 L999.0,468.2 L107.0,468.2 Z" fill="#a0f020"/><path d="M107.0,468.7 L116.9,468.7 L126.8,468.7 L136.7,468.7 L146.6,468.7 L156.6,468.7 L166.5,468.7 L176.4,468.7 L186.3,468.7 L196.2,468.7 L206.1,468.7 L216.0,468.7 L225.9,468.7 L235.8,468.7 L245.8,468.7 L255.7,468.7 L265.6,468.7 L275.5,468.7 L285.4,468.7 L295.3,468.7 L305.2,468.7 L315.1,468.7 L325.0,468.7 L335.0,468.7 L344.9,468.7 L354.8,468.7 L364.7,468.7 L374.6,468.7 L384.5,468.7 L394.4,468.7 L404.3,468.7 L414.2,468.7 L424.2,468.7 L434.1,468.7 L444.0,468.7 L453.9,468.7 L463.8,468.7 L473.7,468.7 L483.6,468.7 L493.5,468.7 L503.4,468.7 L513.4,468.7 L523.3,455.6 L533.2,461.9 L543.1,465.9 L553.0,468.7 L562.9,462.9 L572.8,461.9 L582.7,453.5 L592.6,455.6 L602.5,453.8 L612.5,466.9 L622.4,468.7 L632.3,456.8 L642.2,455.9 L652.1,455.5 L662.0,462.6 L671.9,462.3 L681.8,468.7 L691.7,468.7 L701.7,462.3 L711.6,464.9 L721.5,467.5 L731.4,468.7 L741.3,468.7 L751.2,468.7 L761.1,468.7 L771.0,460.9 L780.9,458.8 L790.9,460.0 L800.8,459.3 L810.7,459.8 L820.6,466.2 L830.5,467.9 L840.4,461.2 L850.3,456.2 L860.2,459.4 L870.1,466.2 L880.1,460.5 L890.0,467.2 L899.9,468.7 L909.8,468.7 L919.7,466.2 L929.6,465.4 L939.5,466.1 L949.4,466.7 L959.3,468.7 L969.3,468.7 L979.2,466.9 L989.1,466.6 L999.0,468.7" fill="none" stroke="#b0fc08" stroke-width="7.2" stroke-linejoin="round"/></g>
<path d="M107.0,468.2 L116.9,468.2 L126.8,468.2 L136.7,468.2 L146.6,468.2 L156.6,468.2 L166.5,468.2 L176.4,468.2 L186.3,468.2 L196.2,468.2 L206.1,468.2 L216.0,467.9 L225.9,467.9 L235.8,468.2 L245.8,468.2 L255.7,468.2 L265.6,468.2 L275.5,468.2 L285.4,468.2 L295.3,468.2 L305.2,468.2 L315.1,468.2 L325.0,468.2 L335.0,468.2 L344.9,468.2 L354.8,468.2 L364.7,468.2 L374.6,468.2 L384.5,468.2 L394.4,467.9 L404.3,468.2 L414.2,468.2 L424.2,467.8 L434.1,468.2 L444.0,468.2 L453.9,468.2 L463.8,468.2 L473.7,468.2 L483.6,468.2 L493.5,468.2 L503.4,468.2 L513.4,468.2 L523.3,467.5 L533.2,468.2 L543.1,468.2 L553.0,468.2 L562.9,468.2 L572.8,468.2 L582.7,467.1 L592.6,467.3 L602.5,467.1 L612.5,468.2 L622.4,468.2 L632.3,467.2 L642.2,467.0 L652.1,467.0 L662.0,468.2 L671.9,468.2 L681.8,468.2 L691.7,468.2 L701.7,467.9 L711.6,468.2 L721.5,468.2 L731.4,468.2 L741.3,468.2 L751.2,468.2 L761.1,468.2 L771.0,467.9 L780.9,467.2 L790.9,467.3 L800.8,467.3 L810.7,467.3 L820.6,468.2 L830.5,468.2 L840.4,468.2 L850.3,467.2 L860.2,467.8 L870.1,468.2 L880.1,467.8 L890.0,468.2 L899.9,468.2 L909.8,468.2 L919.7,468.2 L929.6,468.2 L939.5,468.2 L949.4,468.2 L959.3,468.2 L969.3,468.2 L979.2,468.2 L989.1,468.2 L999.0,468.2" fill="none" stroke="#28e070" stroke-width="6" stroke-linejoin="miter"/></g><g clip-path="url(#cb)"><rect x="100" y="464.8" width="910" height="6.9" fill="#d2f3f8"/>
<path d="M107.0,468.2 L116.9,468.2 L126.8,468.2 L136.7,468.2 L146.6,468.2 L156.6,468.2 L166.5,468.2 L176.4,468.2 L186.3,468.2 L196.2,468.2 L206.1,468.2 L216.0,468.2 L225.9,468.2 L235.8,468.2 L245.8,468.2 L255.7,468.2 L265.6,468.2 L275.5,468.2 L285.4,468.2 L295.3,468.2 L305.2,468.2 L315.1,468.2 L325.0,468.2 L335.0,468.2 L344.9,468.2 L354.8,468.2 L364.7,468.2 L374.6,468.2 L384.5,468.2 L394.4,468.2 L404.3,468.2 L414.2,468.2 L424.2,468.2 L434.1,468.2 L444.0,468.2 L453.9,468.2 L463.8,468.2 L473.7,468.2 L483.6,468.2 L493.5,468.2 L503.4,468.2 L513.4,468.2 L523.3,451.9 L533.2,460.0 L543.1,465.2 L553.0,468.2 L562.9,461.3 L572.8,460.0 L582.7,449.1 L592.6,451.9 L602.5,449.5 L612.5,466.5 L622.4,468.2 L632.3,453.3 L642.2,452.2 L652.1,451.7 L662.0,460.9 L671.9,460.5 L681.8,468.2 L691.7,468.2 L701.7,460.5 L711.6,463.9 L721.5,467.3 L731.4,468.2 L741.3,468.2 L751.2,468.2 L761.1,468.2 L771.0,458.7 L780.9,456.0 L790.9,457.6 L800.8,456.6 L810.7,457.3 L820.6,465.6 L830.5,467.8 L840.4,459.2 L850.3,452.7 L860.2,456.8 L870.1,465.6 L880.1,458.2 L890.0,466.9 L899.9,468.2 L909.8,468.2 L919.7,465.6 L929.6,464.6 L939.5,465.4 L949.4,466.3 L959.3,468.2 L969.3,468.2 L979.2,466.5 L989.1,466.1 L999.0,468.2" fill="none" stroke="#d9ecd9" stroke-width="5.4" stroke-linejoin="round"/></g>
</svg>

<!-- legend -->
<div class="dot" style="left:293.3px;background:#1890ff"></div><div class="cf leg" style="left:313.6px">Sent</div>
<div class="dot" style="left:374px;background:#ffb914"></div><div class="cf leg" style="left:394px">Total opens</div>
<div class="dot" style="left:503.9px;background:#a9f81a"></div><div class="cf leg" style="left:524px">Unique opens</div>
<div class="dot" style="left:650.6px;background:#10dc90"></div><div class="cf leg" style="left:672px">Total replies</div>
<div class="dot" style="left:784px;background:#d9f5fc"></div><div class="cf leg" style="left:805.2px">Total clicks</div>
<div class="dot" style="left:910px;background:#b6ecf8"></div><div class="cf leg" style="left:930.3px">Unique clicks</div>

<!-- y labels -->
<div class="cf yl" style="top:370.2px">1000</div>
<div class="cf yl" style="top:387.4px">800</div>
<div class="cf yl" style="top:404.6px">600</div>
<div class="cf yl" style="top:421.8px">400</div>
<div class="cf yl" style="top:439.0px">200</div>
<div class="cf yl" style="top:456.2px">0</div>

<!-- x labels -->
<div class="cf xl" style="left:146.3px">10 Nov</div>
<div class="cf xl" style="left:245.4px">20 Nov</div>
<div class="cf xl" style="left:354.4px"><b>01 Dec</b></div>
<div class="cf xl" style="left:443.6px">10 Dec</div>
<div class="cf xl" style="left:542.7px">20 Dec</div>
<div class="cf xl" style="left:661.7px"><b>01 Jan</b></div>
<div class="cf xl" style="left:750.9px">10 Jan</div>
<div class="cf xl" style="left:850px">20 Jan</div>

<div class="pw" style="left:864px;top:547.5px;font-size:13px;line-height:16px;">Powered by</div>
<div class="pw" style="left:943.2px;top:541.4px;font-size:21.2px;letter-spacing:0.22px;line-height:26px;">Instantly.ai</div>
</body>
</html>
